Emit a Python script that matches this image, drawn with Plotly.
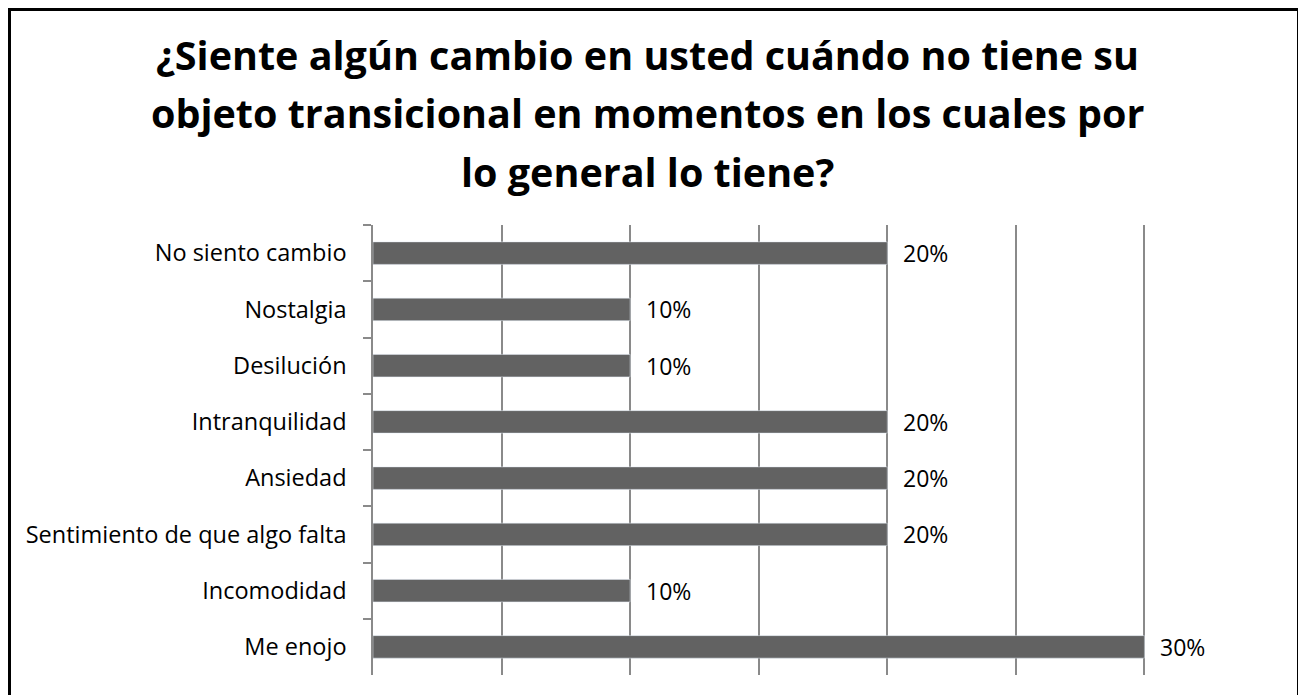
import plotly.graph_objects as go

categorias = ["No siento cambio", "Nostalgia", "Desilución", "Intranquilidad",
              "Ansiedad", "Sentimiento de que algo falta", "Incomodidad", "Me enojo"]
porcentajes = [0.20, 0.10, 0.10, 0.20, 0.20, 0.20, 0.10, 0.30]
titulo = ["¿Siente algún cambio en usted cuándo no tiene su",
          "objeto transicional en momentos en los cuales por",
          "lo general lo tiene?"]

# area de trazado en pixeles de la figura (la pagina agrega 8px de margen)
L, R, T, B = 365, 1265, 217, 667
W, H = 1298, 687


def px_x(p):
    return (p - L) / (R - L)


def px_y(p):
    return (B - p) / (B - T)


fig = go.Figure(go.Bar(x=porcentajes, y=categorias, orientation="h",
                       marker=dict(color="#626262"), width=0.4, hoverinfo="skip"))

# etiquetas de datos
for cat, val in zip(categorias, porcentajes):
    fig.add_annotation(x=val, y=cat, text=f"{val:.0%}", showarrow=False,
                       xanchor="left", yanchor="middle", xshift=14,
                       font=dict(family="Open Sans", size=23, color="#000000"))

# titulo, una linea por anotacion
for i, linea in enumerate(titulo):
    fig.add_annotation(x=px_x(639), xref="paper", y=px_y(47 + 58.5 * i), yref="paper",
                       text=f"<b>{linea}</b>", showarrow=False, xanchor="center", yanchor="middle",
                       font=dict(family="Open Sans", size=39.5, color="#000000"))

# marco del grafico
fig.add_shape(type="rect", xref="paper", yref="paper",
              x0=px_x(1.5), x1=px_x(1290.5), y0=px_y(700), y1=px_y(1.5),
              line=dict(color="#000000", width=3))

fig.update_xaxes(range=[0, 0.35], dtick=0.05, showticklabels=False, showgrid=True,
                 gridcolor="#8a8a8a", gridwidth=1.5, zeroline=False, showline=False)
fig.update_yaxes(autorange="reversed", showline=True, linecolor="#8a8a8a", linewidth=1.5,
                 ticks="outside", tickson="boundaries", ticklen=8, tickcolor="#8a8a8a",
                 tickwidth=1.5, showgrid=False, ticklabelstandoff=20,
                 tickfont=dict(family="Open Sans", size=23.5, color="#000000"))

fig.update_layout(width=W, height=H, margin=dict(l=L, r=W - R, t=T, b=H - B),
                  paper_bgcolor="#ffffff", plot_bgcolor="#ffffff", showlegend=False)

fig.write_html("out.html")
